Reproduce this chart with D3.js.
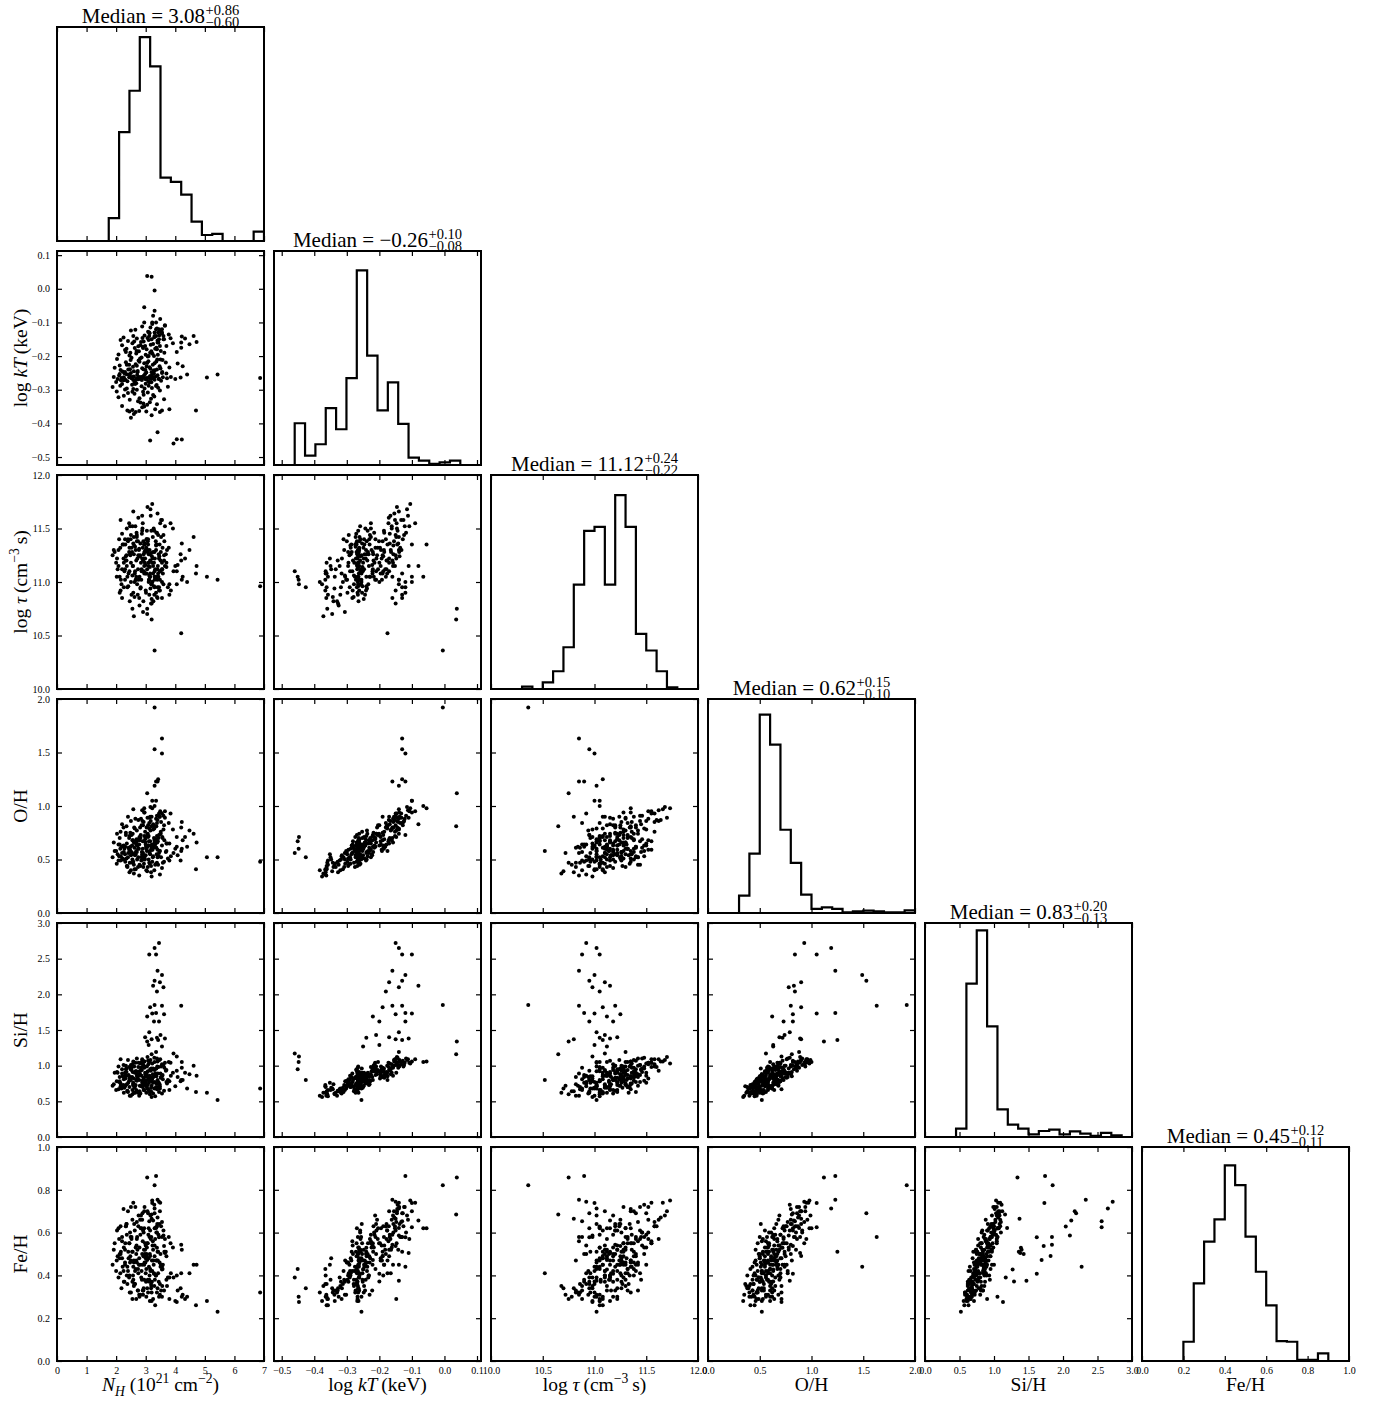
<!DOCTYPE html>
<html>
<head>
<meta charset="utf-8">
<script src="https://cdn.jsdelivr.net/npm/d3@7"></script>
<style>
  body { margin: 0; background: #fff; }
  svg { display: block; }
  text { font-family: "Liberation Serif", "Times New Roman", serif; fill: #000; white-space: pre; }
</style>
</head>
<body>
<svg id="chart" width="1376" height="1405"></svg>
<script>
// ---- parameters of the fit: N_H, log kT, log tau, O/H, Si/H, Fe/H ----
const paramKeys = ["nh", "kt", "tau", "oh", "si", "fe"];

const axisRanges = [[0, 7], [-0.5237, 0.1123], [10, 12], [0, 2], [0, 3], [0, 1]];
const tickValues = [
  [0, 1, 2, 3, 4, 5, 6, 7],
  [-0.5, -0.4, -0.3, -0.2, -0.1, 0.0, 0.1],
  [10, 10.5, 11, 11.5, 12],
  [0, 0.5, 1, 1.5, 2],
  [0, 0.5, 1, 1.5, 2, 2.5, 3],
  [0, 0.2, 0.4, 0.6, 0.8, 1]
];
const tickFormats = ["d", ".1f", ".1f", ".1f", ".1f", ".1f"];

const medians = [3.08, -0.26, 11.12, 0.62, 0.83, 0.45];
const errUpper = [0.86, 0.10, 0.24, 0.15, 0.20, 0.12];
const errLower = [0.60, 0.08, 0.22, 0.10, 0.13, 0.11];

// axis label pieces: t = text, it = italic, sup / sub = script
const axisLabels = [
  [{t: "N", it: 1}, {t: "H", it: 1, sub: 1}, {t: " (10"}, {t: "21", sup: 1}, {t: " cm"}, {t: "\u22122", sup: 1}, {t: ")"}],
  [{t: "log "}, {t: "kT", it: 1}, {t: "\u2009(keV)"}],
  [{t: "log "}, {t: "\u03c4", it: 1}, {t: "\u2009(cm"}, {t: "\u22123", sup: 1}, {t: "\u2009s)"}],
  [{t: "O/H"}],
  [{t: "Si/H"}],
  [{t: "Fe/H"}]
];

// marginal histograms: 20 equal bins across each axis range,
// heights as a percentage of the histogram axis height
const histNH  = [0, 0, 0, 0, 0, 10.7, 50.9, 70.2, 95.3, 81.6, 29.6, 27.6, 21.7, 9.1, 2.8, 3.3, 0, 0, 0, 4.4];
const histKT  = [0, 0, 19.5, 4.4, 9.7, 26.6, 16.7, 40.6, 90.9, 51.1, 25.5, 38.6, 19.2, 3.4, 2.0, 0.5, 1.2, 2.0, 0, 0];
const histTau = [0, 0, 0, 1.1, 0, 3.1, 8.3, 19.5, 48.8, 73.9, 75.8, 48.8, 90.6, 75.8, 25.8, 18.0, 8.3, 0.8, 0, 0];
const histOH  = [0, 0, 0, 8.1, 27.7, 92.7, 78.7, 38.9, 23.4, 8.6, 1.9, 2.6, 1.9, 0.3, 0.8, 1.1, 0.8, 0.3, 0.3, 1.2];
const histSi  = [0, 0, 0, 3.9, 71.7, 96.6, 51.7, 12.9, 5.8, 3.9, 1.2, 2.8, 3.4, 1.2, 2.6, 1.6, 0.5, 1.9, 0.8, 0];
const histFe  = [0, 0, 0, 0, 9.0, 36.3, 55.8, 66.2, 91.4, 82.2, 58.1, 41.7, 26.0, 9.3, 9.0, 0.5, 0.5, 3.6, 0, 0];
const histograms = [histNH, histKT, histTau, histOH, histSi, histFe];

// posterior samples, rows of [nh, kt, tau, oh, si, fe]
const samplesCool = [
  [1.88,-0.292,11.25,0.52,0.72,0.45],[2.02,-0.305,11.05,0.46,0.78,0.47],[2.14,-0.288,11.32,0.60,0.70,0.41],
  [2.26,-0.318,10.95,0.50,0.62,0.37],[2.36,-0.296,11.15,0.44,0.74,0.40],[2.46,-0.330,10.82,0.47,0.58,0.32],
  [2.54,-0.285,11.28,0.63,0.84,0.51],[2.62,-0.312,11.00,0.41,0.69,0.36],[2.70,-0.300,11.38,0.57,0.79,0.46],
  [2.79,-0.325,10.78,0.45,0.64,0.30],[2.86,-0.290,11.10,0.52,0.86,0.42],[2.93,-0.315,11.22,0.54,0.66,0.34],
  [3.00,-0.282,10.92,0.64,0.77,0.54],[3.07,-0.308,11.30,0.43,0.73,0.38],[3.14,-0.337,11.05,0.46,0.60,0.28],
  [3.21,-0.295,11.18,0.59,0.81,0.37],[3.29,-0.320,10.88,0.40,0.68,0.35],[3.37,-0.286,11.35,0.55,0.75,0.47],
  [3.48,-0.302,11.02,0.58,0.68,0.31],[3.62,-0.328,11.20,0.48,0.65,0.33],[3.75,-0.291,10.95,0.51,0.80,0.39],
  [2.20,-0.283,10.85,0.56,0.89,0.56],[2.40,-0.310,11.40,0.52,0.63,0.42],[2.58,-0.298,10.90,0.48,0.76,0.38],
  [2.74,-0.334,11.12,0.43,0.62,0.33],[2.91,-0.306,10.72,0.56,0.72,0.31],[3.10,-0.288,11.26,0.50,0.83,0.48],
  [3.25,-0.316,11.08,0.53,0.61,0.29],[3.42,-0.294,11.44,0.45,0.77,0.41],[2.08,-0.322,11.15,0.49,0.67,0.39],
  [2.68,-0.281,11.20,0.67,0.80,0.50],[3.18,-0.327,10.80,0.38,0.64,0.34],[2.30,-0.299,11.02,0.55,0.71,0.46],
  [2.38,-0.362,10.95,0.44,0.64,0.36],[2.45,-0.365,11.10,0.38,0.70,0.40],[2.55,-0.360,10.75,0.47,0.60,0.29],
  [2.66,-0.366,11.02,0.41,0.73,0.43],[2.78,-0.363,10.85,0.35,0.58,0.31],[2.95,-0.350,11.15,0.52,0.66,0.38],
  [3.05,-0.345,10.70,0.39,0.68,0.34],[3.32,-0.358,11.05,0.45,0.57,0.26],[3.48,-0.366,10.92,0.36,0.71,0.36],
  [3.55,-0.362,11.18,0.42,0.61,0.30],[3.80,-0.358,10.88,0.49,0.66,0.29],[4.70,-0.362,11.08,0.41,0.63,0.26],
  [2.60,-0.372,10.68,0.37,0.62,0.35],[2.88,-0.352,11.22,0.55,0.76,0.45],[3.20,-0.376,10.98,0.34,0.56,0.28],
  [2.20,-0.348,11.12,0.50,0.69,0.48],[2.92,-0.341,10.82,0.43,0.74,0.33],[2.50,-0.383,11.00,0.40,0.58,0.32],
  [2.55,-0.306,11.06,0.50,0.66,0.37],[2.82,-0.338,10.94,0.44,0.61,0.31],[3.02,-0.365,11.08,0.40,0.62,0.30],
  [3.38,-0.343,10.86,0.47,0.67,0.32],[2.64,-0.283,11.10,0.56,0.72,0.42],[2.96,-0.296,11.28,0.51,0.78,0.46],
  [3.19,-0.278,10.98,0.60,0.82,0.35],[3.35,-0.289,11.34,0.46,0.70,0.40]
];

const samplesCentral = [
  [1.92,-0.262,11.30,0.66,0.74,0.52],[2.05,-0.268,11.12,0.55,0.90,0.49],[2.18,-0.265,10.98,0.62,0.68,0.34],
  [2.31,-0.270,11.35,0.48,0.82,0.55],[2.44,-0.263,11.28,0.70,0.79,0.39],[2.52,-0.266,10.88,0.57,0.97,0.58],
  [2.60,-0.261,11.42,0.45,0.72,0.46],[2.68,-0.267,11.05,0.64,0.66,0.29],[2.75,-0.264,11.25,0.52,0.88,0.41],
  [2.83,-0.269,10.95,0.73,0.93,0.62],[2.90,-0.262,11.32,0.60,0.70,0.33],[2.97,-0.266,11.18,0.50,0.80,0.50],
  [3.04,-0.265,11.48,0.58,0.99,0.53],[3.11,-0.263,11.02,0.67,0.76,0.44],[3.18,-0.268,11.27,0.44,0.69,0.36],
  [3.26,-0.264,10.82,0.61,0.84,0.47],[3.34,-0.261,11.38,0.69,0.89,0.40],[3.45,-0.267,11.22,0.56,0.63,0.30],
  [3.58,-0.263,11.08,0.47,0.81,0.45],[3.72,-0.266,11.30,0.65,0.75,0.35],[3.85,-0.262,10.92,0.53,0.86,0.41],
  [4.00,-0.268,11.15,0.60,0.71,0.28],[4.18,-0.264,11.26,0.49,0.78,0.34],[4.40,-0.255,11.00,0.62,0.68,0.30],
  [2.10,-0.258,11.40,0.53,0.77,0.57],[2.25,-0.272,11.22,0.63,0.73,0.42],[2.38,-0.275,11.05,0.43,0.65,0.44],
  [2.47,-0.259,11.52,0.59,0.82,0.60],[2.56,-0.262,11.15,0.74,0.91,0.51],[2.64,-0.273,11.33,0.54,0.62,0.36],
  [2.71,-0.256,10.98,0.50,0.85,0.58],[2.80,-0.265,11.24,0.68,0.72,0.45],[2.87,-0.271,11.45,0.57,0.94,0.38],
  [2.94,-0.258,11.10,0.46,0.74,0.52],[3.01,-0.267,10.90,0.62,0.87,0.37],[3.08,-0.274,11.35,0.71,0.67,0.32],
  [3.15,-0.259,11.20,0.55,0.83,0.61],[3.22,-0.266,11.00,0.48,0.77,0.42],[3.30,-0.270,11.28,0.66,0.95,0.49],
  [3.40,-0.257,11.12,0.59,0.70,0.51],[3.52,-0.273,11.42,0.52,0.84,0.33],[2.00,-0.277,11.18,0.58,0.66,0.42],
  [2.35,-0.254,11.25,0.51,0.96,0.64],[2.62,-0.279,10.86,0.61,0.70,0.36],[2.98,-0.253,11.36,0.76,0.90,0.55],
  [3.12,-0.278,11.06,0.47,0.64,0.38],[2.78,-0.262,11.31,0.64,0.80,0.48],
  [2.42,-0.255,11.08,0.61,0.87,0.48],[2.58,-0.271,11.36,0.55,0.75,0.44],[2.72,-0.248,11.22,0.63,0.83,0.52],
  [2.85,-0.262,11.02,0.49,0.71,0.39],[2.99,-0.241,11.30,0.66,0.88,0.46],[3.14,-0.265,11.14,0.58,0.79,0.50],
  [3.28,-0.252,10.96,0.70,0.85,0.41],[3.44,-0.268,11.26,0.53,0.76,0.37],[2.26,-0.263,11.18,0.57,0.81,0.53],
  [2.16,-0.272,11.02,0.53,0.73,0.51],[3.00,-0.269,11.16,0.54,0.74,0.41],[2.74,-0.269,11.38,0.60,0.85,0.43],
  [3.21,-0.258,11.24,0.64,0.81,0.47],[3.70,-0.252,11.14,0.58,0.77,0.38],[2.12,-0.253,10.90,0.64,0.84,0.50],
  [1.95,-0.235,11.28,0.58,0.90,0.55],[2.12,-0.228,11.05,0.70,0.78,0.48],[2.22,-0.246,11.35,0.51,0.85,0.44],
  [2.33,-0.218,11.20,0.75,1.00,0.63],[2.41,-0.240,10.96,0.56,0.76,0.51],[2.49,-0.212,11.40,0.62,0.95,0.58],
  [2.57,-0.232,11.15,0.68,0.73,0.40],[2.66,-0.224,11.30,0.55,0.92,0.53],[2.73,-0.244,10.88,0.64,0.81,0.33],
  [2.81,-0.207,11.25,0.80,0.88,0.66],[2.88,-0.236,11.48,0.53,0.79,0.50],[2.95,-0.221,11.08,0.72,0.97,0.45],
  [3.02,-0.249,11.32,0.60,0.71,0.43],[3.09,-0.215,11.18,0.63,1.02,0.59],[3.16,-0.238,10.94,0.77,0.84,0.42],
  [3.24,-0.226,11.42,0.52,0.88,0.56],[3.31,-0.242,11.22,0.69,0.77,0.38],[3.39,-0.210,11.02,0.66,0.99,0.64],
  [3.47,-0.230,11.35,0.58,0.74,0.46],[3.56,-0.247,11.12,0.71,0.86,0.35],[3.68,-0.219,11.26,0.57,0.93,0.51],
  [3.80,-0.234,10.98,0.65,0.78,0.39],[4.08,-0.222,11.16,0.54,0.84,0.33],[4.25,-0.230,11.05,0.68,0.80,0.31],
  [2.03,-0.209,11.22,0.74,0.91,0.61],[2.28,-0.251,11.10,0.60,0.69,0.37],[2.44,-0.226,11.55,0.59,0.98,0.55],
  [2.60,-0.245,11.26,0.66,0.82,0.47],[2.76,-0.213,11.02,0.69,1.04,0.68],[2.92,-0.239,11.38,0.50,0.83,0.49],
  [3.05,-0.220,11.28,0.73,0.80,0.55],[3.20,-0.248,10.84,0.62,0.72,0.32],[3.36,-0.216,11.46,0.61,0.96,0.60],
  [3.50,-0.237,11.20,0.74,0.89,0.44],[2.15,-0.241,10.92,0.49,0.75,0.50],[2.70,-0.229,11.44,0.67,0.87,0.57],
  [2.86,-0.204,11.12,0.82,1.05,0.62],[3.13,-0.233,11.26,0.56,0.86,0.40],[3.27,-0.243,11.50,0.63,0.76,0.45],
  [2.50,-0.250,11.18,0.54,0.80,0.47],[2.47,-0.239,11.26,0.57,0.80,0.46],[2.79,-0.217,11.05,0.71,0.92,0.53],
  [3.03,-0.231,11.40,0.61,0.85,0.49],[3.30,-0.221,11.10,0.68,0.94,0.54],[2.30,-0.247,11.40,0.62,0.90,0.45],
  [3.57,-0.212,11.32,0.70,0.87,0.43],[2.36,-0.226,11.50,0.65,0.86,0.59]
];

const samplesWarm = [
  [2.08,-0.195,11.30,0.64,0.99,0.62],[2.20,-0.168,11.45,0.83,0.95,0.58],[2.30,-0.182,11.12,0.62,0.86,0.52],
  [2.40,-0.155,11.38,0.90,1.08,0.70],[2.48,-0.190,11.25,0.75,0.84,0.49],[2.55,-0.162,11.52,0.68,1.02,0.66],
  [2.63,-0.176,11.08,0.79,0.90,0.61],[2.70,-0.148,11.42,0.77,1.10,0.65],[2.77,-0.186,11.30,0.60,0.87,0.45],
  [2.84,-0.158,11.18,0.88,0.97,0.68],[2.90,-0.172,11.55,0.67,1.04,0.56],[2.96,-0.139,11.28,0.94,0.99,0.72],
  [3.03,-0.180,11.40,0.80,0.89,0.50],[3.10,-0.152,11.15,0.72,1.07,0.62],[3.17,-0.166,11.62,0.86,0.93,0.57],
  [3.23,-0.193,11.22,0.59,0.95,0.54],[3.29,-0.144,11.48,0.79,1.11,0.73],[3.36,-0.175,11.35,0.81,0.85,0.47],
  [3.43,-0.160,11.05,0.70,0.98,0.59],[3.51,-0.185,11.28,0.76,0.83,0.45],[3.60,-0.150,11.44,0.91,1.01,0.61],
  [3.70,-0.170,11.18,0.65,0.94,0.49],[3.78,-0.136,11.32,0.84,1.05,0.58],[3.92,-0.162,11.50,0.78,0.90,0.53],
  [4.05,-0.188,11.10,0.62,0.93,0.40],[4.22,-0.142,11.36,0.85,0.97,0.52],[4.33,-0.148,11.22,0.71,0.90,0.29],
  [4.48,-0.165,11.30,0.77,0.88,0.41],[4.62,-0.140,11.42,0.74,1.00,0.45],[4.72,-0.158,11.15,0.66,0.86,0.45],
  [2.15,-0.152,11.58,0.76,1.09,0.63],[2.35,-0.178,11.20,0.81,0.91,0.64],[2.58,-0.140,11.66,0.97,1.06,0.74],
  [2.82,-0.168,11.36,0.70,1.03,0.59],[3.06,-0.146,11.70,0.89,1.12,0.70],[3.32,-0.178,11.12,0.64,0.88,0.57],
  [3.55,-0.133,11.58,0.93,1.02,0.65],[2.45,-0.198,11.32,0.72,0.82,0.55],[2.68,-0.192,11.02,0.58,0.92,0.47],
  [2.93,-0.157,11.26,0.85,1.00,0.60],[3.19,-0.186,11.48,0.63,0.96,0.58],[3.46,-0.138,11.24,0.90,1.08,0.64],
  [2.25,-0.145,11.35,0.80,1.01,0.71],[2.75,-0.171,11.60,0.87,0.98,0.63],[3.00,-0.196,11.08,0.71,0.85,0.48],
  [3.40,-0.154,11.64,0.87,1.06,0.67],[3.63,-0.190,11.38,0.68,0.97,0.51],[3.84,-0.147,11.55,0.93,1.04,0.55],
  [2.52,-0.205,11.32,0.73,0.94,0.57],[2.69,-0.185,11.46,0.69,0.91,0.54],[2.91,-0.176,11.20,0.82,1.00,0.61],
  [3.07,-0.201,11.38,0.74,0.92,0.55],[3.25,-0.164,11.28,0.78,0.96,0.52],[3.41,-0.196,11.15,0.67,0.89,0.47],
  [2.33,-0.188,11.24,0.73,0.95,0.63],[2.89,-0.146,11.50,0.86,1.03,0.69],[3.13,-0.132,11.30,0.89,1.05,0.58],
  [2.61,-0.157,11.34,0.80,0.99,0.64],
  [2.65,-0.122,11.52,0.88,1.04,0.72],[2.88,-0.112,11.62,0.96,1.09,0.66],[3.08,-0.128,11.40,0.82,1.07,0.69],
  [3.22,-0.105,11.73,0.98,1.03,0.75],[3.38,-0.118,11.46,0.91,1.10,0.60],[3.52,-0.126,11.58,0.85,0.99,0.63],
  [2.95,-0.100,11.35,0.94,1.06,0.70],[3.16,-0.115,11.68,0.99,1.08,0.68],[3.65,-0.108,11.52,0.95,1.04,0.57],
  [2.50,-0.124,11.44,0.86,1.01,0.72],
  [2.95,-0.055,11.35,0.98,1.06,0.62],[3.30,-0.065,11.05,1.00,1.05,0.62],[3.49,-0.090,11.55,0.95,1.09,0.74]
];

// metal-rich tail and scattered outliers
const samplesTail = [
  [3.45,-0.150,10.92,0.93,2.72,0.744],[3.30,-0.140,11.02,1.19,2.65,0.713],[3.12,-0.130,10.88,0.84,2.56,0.653],
  [3.35,-0.100,11.05,1.05,2.56,0.625],[3.40,-0.160,10.85,1.23,2.33,0.754],[3.55,-0.120,11.00,1.49,2.27,0.441],
  [3.30,-0.130,10.95,1.53,2.19,0.690],[3.48,-0.170,11.10,0.90,2.17,0.700],[3.25,-0.080,11.15,0.83,2.12,0.656],
  [3.60,-0.140,10.98,0.78,2.10,0.586],[3.38,-0.180,11.05,0.84,2.04,0.629],[3.30,-0.005,10.36,1.92,1.85,0.821],
  [3.55,-0.130,10.85,1.63,1.84,0.579],[4.20,-0.160,11.20,0.80,1.84,0.543],[3.15,-0.190,11.08,0.90,1.82,0.491],
  [3.35,-0.120,10.90,1.23,1.74,0.864],[3.22,-0.100,11.00,1.05,1.73,0.738],[3.62,-0.150,11.25,0.82,1.72,0.537],
  [3.05,-0.220,11.12,0.62,1.69,0.472],[3.45,-0.120,10.95,0.73,1.62,0.578],[3.28,-0.200,11.18,0.82,1.62,0.408],
  [3.12,-0.140,11.02,0.79,1.47,0.375],[3.50,-0.210,11.10,0.74,1.43,0.500],[2.98,-0.170,11.22,0.69,1.40,0.520],
  [3.38,-0.240,11.05,0.72,1.39,0.529],[3.65,-0.110,11.15,0.89,1.38,0.505],[3.20,-0.150,10.80,0.90,1.37,0.665],
  [3.42,-0.130,11.08,1.25,1.36,0.510],[3.05,0.038,10.75,1.12,1.34,0.858],[3.10,-0.200,11.00,0.63,1.29,0.371],
  [3.55,-0.250,11.12,0.63,1.27,0.428],[3.35,-0.140,11.30,0.88,1.19,0.621],[3.20,0.036,10.65,0.81,1.16,0.684],
  [3.94,-0.460,11.10,0.56,1.17,0.390],[4.05,-0.447,10.98,0.71,1.13,0.276],[3.15,-0.451,11.05,0.67,0.95,0.430],
  [3.40,-0.426,10.95,0.52,0.80,0.340],[4.22,-0.448,11.02,0.60,1.05,0.300],
  [5.07,-0.264,11.05,0.52,0.62,0.280],[5.43,-0.255,11.02,0.52,0.52,0.230],[6.87,-0.265,10.96,0.48,0.68,0.320],
  [4.20,-0.175,10.52,0.58,0.80,0.410]
];

const samples = [...samplesCool, ...samplesCentral, ...samplesWarm, ...samplesTail];

// ---------------- layout ----------------
const origin = {left: 57, top: 27};
const PW = 207, PH = 214, GAP = 10;
const colX = i => origin.left + i * (PW + GAP);
const rowY = j => origin.top + j * (PH + GAP);
const n = paramKeys.length;

const svg = d3.select("#chart");
svg.append("rect").attr("width", 1376).attr("height", 1405).attr("fill", "#fff");
svg.append("defs").append("clipPath").attr("id", "panel-clip")
  .append("rect").attr("width", PW).attr("height", PH);

const xScales = axisRanges.map(r => d3.scaleLinear().domain(r).range([0, PW]));
const yScales = axisRanges.map(r => d3.scaleLinear().domain(r).range([PH, 0]));
const fmt2 = d3.format(".2f");

function richText(sel, segs, size) {
  let shift = 0;
  segs.forEach(s => {
    const target = s.sup ? -0.4 * size : s.sub ? 0.25 * size : 0;
    sel.append("tspan")
      .attr("dy", target - shift)
      .attr("font-size", (s.sup || s.sub) ? size * 0.7 : size)
      .attr("font-style", s.it ? "italic" : null)
      .text(s.t);
    shift = target;
  });
}

function styleAxis(g, size) {
  g.select(".domain").remove();
  g.selectAll("line").attr("stroke", "#000").attr("stroke-width", 1.2);
  g.selectAll("text").attr("font-family", "Liberation Serif, serif").attr("font-size", size).attr("fill", "#000");
}

function inwardTicks(g, i, j, diag) {
  const tx = tickValues[i];
  g.append("g").attr("transform", `translate(0,${PH})`)
    .call(d3.axisBottom(xScales[i]).tickValues(tx).tickSize(-5).tickFormat(""))
    .call(a => styleAxis(a, 10));
  g.append("g")
    .call(d3.axisTop(xScales[i]).tickValues(tx).tickSize(-5).tickFormat(""))
    .call(a => styleAxis(a, 10));
  if (!diag) {
    const ty = tickValues[j];
    g.append("g")
      .call(d3.axisLeft(yScales[j]).tickValues(ty).tickSize(-5).tickFormat(""))
      .call(a => styleAxis(a, 10));
    g.append("g").attr("transform", `translate(${PW},0)`)
      .call(d3.axisRight(yScales[j]).tickValues(ty).tickSize(-5).tickFormat(""))
      .call(a => styleAxis(a, 10));
  }
}

function drawTitle(g, i) {
  const t = g.append("g");
  const main = t.append("text").attr("font-size", 21).text("Median = " + fmt2(medians[i]));
  const w = main.node().getComputedTextLength();
  const up = t.append("text").attr("font-size", 14.5).attr("x", w + 0.5).attr("y", -8.5).text("+" + fmt2(errUpper[i]));
  const lo = t.append("text").attr("font-size", 14.5).attr("x", w + 0.5).attr("y", 3.5).text("\u2212" + fmt2(errLower[i]));
  const total = w + 0.5 + Math.max(up.node().getComputedTextLength(), lo.node().getComputedTextLength());
  t.attr("transform", `translate(${PW / 2 - total / 2},-4)`);
}

for (let j = 0; j < n; j++) {
  for (let i = 0; i <= j; i++) {
    const g = svg.append("g").attr("transform", `translate(${colX(i)},${rowY(j)})`);
    const diag = i === j;

    if (diag) {
      drawTitle(g, i);
      const counts = histograms[i];
      const [lo, hi] = axisRanges[i];
      const step = (hi - lo) / counts.length;
      const hy = d3.scaleLinear().domain([0, 100]).range([PH, 0]);
      const pts = [[lo, 0]];
      counts.forEach((c, k) => { pts.push([lo + k * step, c]); pts.push([lo + (k + 1) * step, c]); });
      pts.push([hi, 0]);
      g.append("g").attr("clip-path", "url(#panel-clip)")
        .append("path")
        .attr("d", d3.line().x(d => xScales[i](d[0])).y(d => hy(d[1]))(pts))
        .attr("fill", "none").attr("stroke", "#000").attr("stroke-width", 2.2)
        .attr("stroke-linejoin", "miter");
    } else {
      g.append("g").attr("clip-path", "url(#panel-clip)")
        .selectAll("circle").data(samples).join("circle")
        .attr("cx", d => xScales[i](d[i]))
        .attr("cy", d => yScales[j](d[j]))
        .attr("r", 2)
        .attr("fill", "#000");
    }

    inwardTicks(g, i, j, diag);

    // tick labels on the outer edges only
    if (j === n - 1) {
      g.append("g").attr("transform", `translate(0,${PH})`)
        .call(d3.axisBottom(xScales[i]).tickValues(tickValues[i]).tickSize(0).tickPadding(5.5)
          .tickFormat(d3.format(tickFormats[i])))
        .call(a => styleAxis(a, 10));
      const lab = g.append("text").attr("text-anchor", "middle")
        .attr("x", PW / 2).attr("y", PH + 30);
      richText(lab, axisLabels[i], 19.5);
    }
    if (i === 0 && j > 0) {
      g.append("g")
        .call(d3.axisLeft(yScales[j]).tickValues(tickValues[j]).tickSize(0).tickPadding(7)
          .tickFormat(d3.format(tickFormats[j])))
        .call(a => styleAxis(a, 10));
      const lab = g.append("text").attr("text-anchor", "middle")
        .attr("transform", `translate(${27 - origin.left},${PH / 2}) rotate(-90)`);
      richText(lab, axisLabels[j], 19.5);
    }

    g.append("rect").attr("width", PW).attr("height", PH)
      .attr("fill", "none").attr("stroke", "#000").attr("stroke-width", 2);
  }
}
</script>
</body>
</html>
